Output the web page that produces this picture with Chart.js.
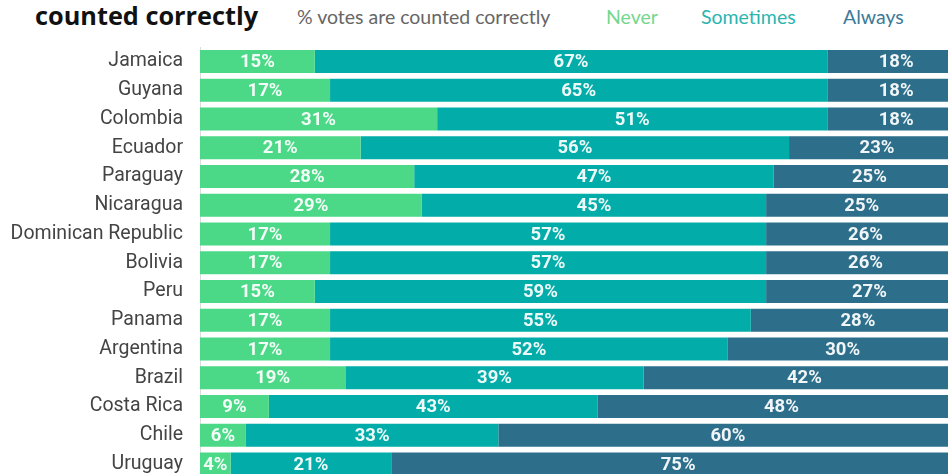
<!DOCTYPE html>
<html>
<head>
<meta charset="utf-8">
<script src="https://cdn.jsdelivr.net/npm/chart.js@4.4.1/dist/chart.umd.min.js"></script>
<style>
  html, body { margin: 0; padding: 0; background: #fff; }
  body { width: 948px; height: 474px; overflow: hidden; position: relative; }
  #wrap { position: absolute; left: 0; top: 0; width: 968px; height: 507px; }
  .hdr { position: absolute; white-space: nowrap; font-family: Lato, "Open Sans", sans-serif; }
  #title { left: 35px; top: -2px; font-family: "Open Sans", Lato, sans-serif; font-size: 25.3px; font-weight: 700; color: #111; }
  #sub { left: 297px; top: 5px; font-size: 19.5px; color: #666; font-weight: 400; }
  .leg { top: 5px; font-size: 19.5px; }
</style>
</head>
<body>
<div id="title" class="hdr">counted correctly</div>
<div id="sub" class="hdr">% votes are counted correctly</div>
<div class="hdr leg" style="left:606px;color:#74d78f;">Never</div>
<div class="hdr leg" style="left:701px;color:#2cb5b0;">Sometimes</div>
<div class="hdr leg" style="left:843px;color:#3d7a99;">Always</div>
<div id="wrap"><canvas id="c" width="968" height="507"></canvas></div>
<script>
const countries = ["Jamaica", "Guyana", "Colombia", "Ecuador", "Paraguay", "Nicaragua",
  "Dominican Republic", "Bolivia", "Peru", "Panama", "Argentina", "Brazil",
  "Costa Rica", "Chile", "Uruguay"];
const never     = [15, 17, 31, 21, 28, 29, 17, 17, 15, 17, 17, 19,  9,  6,  4];
const sometimes = [67, 65, 51, 56, 47, 45, 57, 57, 59, 55, 52, 39, 43, 33, 21];
const always    = [18, 18, 18, 23, 25, 25, 26, 26, 27, 28, 30, 42, 48, 60, 75];
const seriesNames = ["Never", "Sometimes", "Always"];
const seriesColors = ["#4bd987", "#02ada9", "#2d6f8b"];

// Writes each segment's percentage in the middle of its bar
const segmentLabels = {
  id: "segmentLabels",
  afterDatasetsDraw(chart) {
    const ctx = chart.ctx;
    ctx.save();
    ctx.font = "bold 18.5px Roboto";
    ctx.fillStyle = "rgba(255,255,255,0.93)";
    ctx.textAlign = "center";
    ctx.textBaseline = "middle";
    chart.data.datasets.forEach((ds, di) => {
      const meta = chart.getDatasetMeta(di);
      meta.data.forEach((bar, i) => {
        const v = ds.data[i];
        const cx = (bar.x + bar.base) / 2;
        ctx.fillText(v + "%", cx, bar.y + 1);
      });
    });
    ctx.restore();
  }
};

new Chart(document.getElementById("c"), {
  type: "bar",
  data: {
    labels: countries,
    datasets: [never, sometimes, always].map((d, k) => ({
      label: seriesNames[k],
      data: d,
      backgroundColor: seriesColors[k],
      borderWidth: 0,
      categoryPercentage: 1,
      barPercentage: 0.8
    }))
  },
  options: {
    indexAxis: "y",
    responsive: false,
    animation: false,
    devicePixelRatio: 1,
    layout: { padding: { top: 47, bottom: 2, right: 3, left: 0 } },
    plugins: { legend: { display: false }, tooltip: { enabled: false } },
    scales: {
      x: { stacked: true, min: 0, max: 100, display: false },
      y: {
        stacked: true,
        grid: { display: false, drawTicks: false },
        border: { display: true, color: "#dcdcdc", width: 1 },
        ticks: { color: "#444", font: { family: "Roboto", size: 19.5 }, padding: 17 },
        afterFit(scale) { scale.width = 200; }
      }
    }
  },
  plugins: [segmentLabels]
});
</script>
</body>
</html>
